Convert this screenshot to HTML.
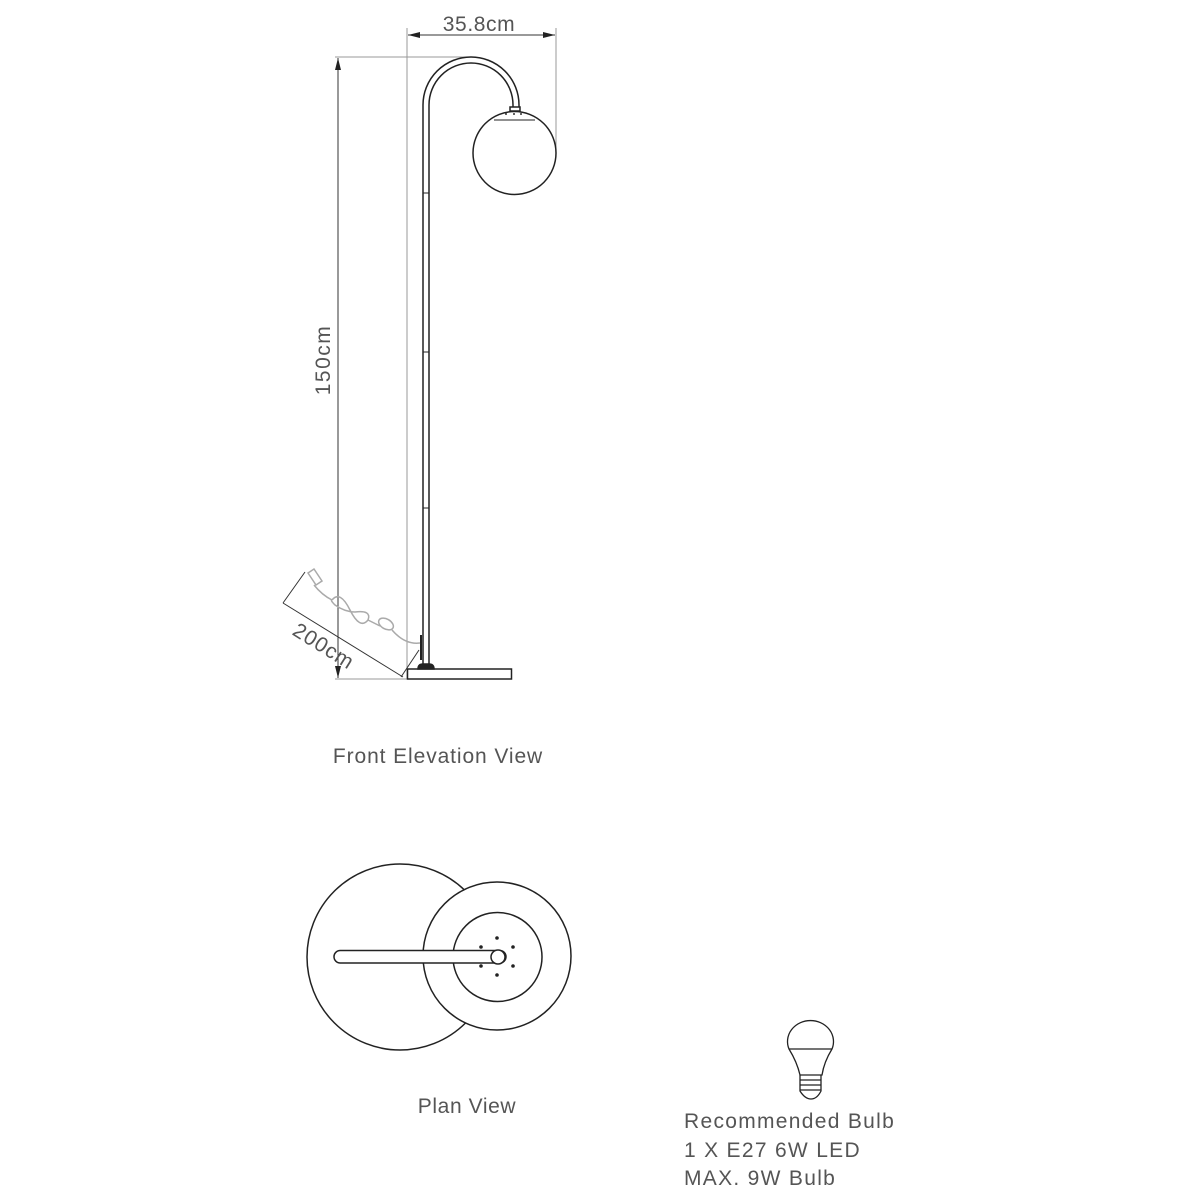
<!DOCTYPE html>
<html><head><meta charset="utf-8"><style>
html,body{margin:0;padding:0;background:#fff;}
svg{display:block;}
text{font-family:"Liberation Sans",sans-serif;fill:#555;}
</style></head><body>
<svg width="1200" height="1200" viewBox="0 0 1200 1200" xmlns="http://www.w3.org/2000/svg">
<defs>
<marker id="ar" markerWidth="12" markerHeight="6" refX="12" refY="3" orient="auto" markerUnits="userSpaceOnUse">
<path d="M0,0 L12,3 L0,6 z" fill="#222"/></marker>
</defs>
<g stroke="#999" stroke-width="1" fill="none">
<line x1="407" y1="28" x2="407" y2="679"/>
<line x1="556" y1="28" x2="556" y2="150"/>
<line x1="335" y1="57" x2="470" y2="57"/>
<line x1="335" y1="679" x2="412" y2="679"/>
</g>
<g stroke="#333" stroke-width="1" fill="none">
<line x1="480" y1="35" x2="408" y2="35" marker-end="url(#ar)"/>
<line x1="480" y1="35" x2="555" y2="35" marker-end="url(#ar)"/>
<line x1="338" y1="360" x2="338" y2="58" marker-end="url(#ar)"/>
<line x1="338" y1="360" x2="338" y2="678" marker-end="url(#ar)"/>
<line x1="283" y1="603" x2="403" y2="677"/>
<line x1="283" y1="603" x2="305" y2="572"/>
<line x1="401" y1="677" x2="419" y2="650"/>
</g>
<text x="479" y="31" font-size="21" text-anchor="middle" letter-spacing="0.6">35.8cm</text>
<text transform="translate(330,360) rotate(-90)" font-size="21" text-anchor="middle" letter-spacing="1.5">150cm</text>
<text transform="translate(320,652) rotate(32)" font-size="21" text-anchor="middle" letter-spacing="1">200cm</text>
<g stroke="#222" stroke-width="1.5" fill="none">
<path d="M423,668 L423,105 A48,48 0 0 1 519,105 L519,108"/>
<path d="M429,668 L429,105 A42,42 0 0 1 513,105 L513,108"/>
<rect x="510" y="107" width="10" height="4" fill="#fff"/>
<circle cx="514.5" cy="153" r="41.5"/>
<line x1="494" y1="120" x2="535" y2="120" stroke-width="1"/>
<line x1="423" y1="193" x2="429" y2="193" stroke-width="1"/>
<line x1="423" y1="352" x2="429" y2="352" stroke-width="1"/>
<line x1="423" y1="508" x2="429" y2="508" stroke-width="1"/>
<rect x="407.5" y="669" width="104" height="10" fill="#fff"/>
<path d="M418,669 Q418,664 423,664 L429,664 Q434,664 434,669 z" fill="#222"/>
<line x1="421" y1="635" x2="421" y2="660" stroke-width="2"/>
</g>
<g fill="#333"><circle cx="506" cy="114" r="1"/><circle cx="514" cy="114" r="1"/><circle cx="521" cy="114" r="1"/></g>
<g stroke="#aaa" stroke-width="1.5" fill="none">
<path d="M308,573 l6,-4 l8,12 l-6,4 z" fill="#fff"/>
<path d="M314,585 Q322,595 332,600"/>
<path d="M332,600 Q340,590 350,610 Q360,630 368,620 Q372,610 355,612 Q345,612 335,605 Q330,600 332,600"/>
<path d="M368,620 Q376,624 380,626"/>
<ellipse cx="386" cy="624" rx="8" ry="5" fill="#fff" transform="rotate(30 386 624)"/>
<path d="M392,630 Q405,645 420,643"/>
</g>
<text x="438" y="763" font-size="21" text-anchor="middle" letter-spacing="0.9">Front Elevation View</text>
<g stroke="#222" stroke-width="1.5" fill="#fff">
<circle cx="400" cy="957" r="93"/>
<circle cx="497" cy="956" r="74"/>
<circle cx="497.5" cy="957" r="44.5"/>
<rect x="334" y="950.5" width="172" height="12.5" rx="6.25"/>
<circle cx="498" cy="957" r="7"/>
</g>
<g fill="#222">
<circle cx="497" cy="938" r="1.8"/><circle cx="513" cy="947" r="1.8"/><circle cx="513" cy="966" r="1.8"/>
<circle cx="497" cy="975" r="1.8"/><circle cx="481" cy="966" r="1.8"/><circle cx="481" cy="947" r="1.8"/>
</g>
<text x="467" y="1113" font-size="21" text-anchor="middle" letter-spacing="0.6">Plan View</text>
<g stroke="#222" stroke-width="1.3" fill="none">
<path d="M789,1049 A23,21 0 1 1 832,1049 Q824,1062 822,1075 L800,1075 Q797,1062 789,1049 z"/>
<line x1="789" y1="1049" x2="832" y2="1049"/>
<path d="M800,1075 L800,1091 Q805,1099 811,1099 Q817,1099 821,1091 L821,1075"/>
<line x1="800" y1="1080" x2="821" y2="1080"/><line x1="800" y1="1085" x2="821" y2="1085"/><line x1="800" y1="1090" x2="821" y2="1090"/>
</g>
<g font-size="21" letter-spacing="1.3">
<text x="684" y="1128">Recommended Bulb</text>
<text x="684" y="1157">1 X E27 6W LED</text>
<text x="684" y="1185">MAX. 9W Bulb</text>
</g>
</svg>
</body></html>
